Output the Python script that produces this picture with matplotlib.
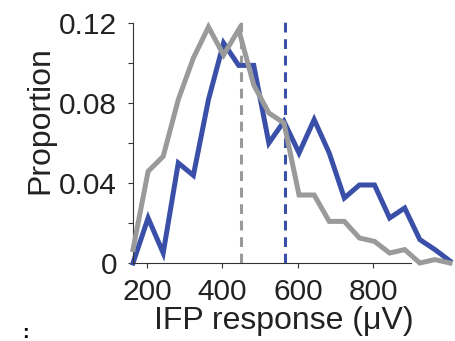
import matplotlib
matplotlib.use("Agg")
import matplotlib.pyplot as plt
import numpy as np

plt.rcParams['font.family'] = ['Liberation Sans', 'DejaVu Sans']

bin_start = 163
bin_width = 40
blue_vals = [0.0, 0.0225, 0.005, 0.05, 0.0438, 0.0817, 0.110, 0.0988, 0.0988, 0.060,
             0.0708, 0.055, 0.0717, 0.055, 0.0325, 0.039, 0.039, 0.0225, 0.0275,
             0.0117, 0.0067, 0.001]
gray_vals = [0.0067, 0.0458, 0.0533, 0.0817, 0.1025, 0.118, 0.104, 0.1167, 0.089, 0.075,
             0.070, 0.034, 0.034, 0.0208, 0.0208, 0.0125, 0.0108, 0.005, 0.0067,
             0.0, 0.0017, 0.0]
blue_median = 566
gray_median = 448
xticks = [200, 400, 600, 800]
yticks = [0, 0.04, 0.08, 0.12]
yticklabels = ['0', '0.04', '0.08', '0.12']

blue = '#3a50a8'
gray = '#9a9a9a'

x = bin_start + bin_width * np.arange(len(blue_vals))

fig = plt.figure(figsize=(4.56, 3.41), dpi=100)
ax = fig.add_axes([133/456, 1-263/341, (450-133)/456, (263-13)/341])

ax.plot([gray_median, gray_median], [0, 0.1225], color=gray, lw=2.2, ls=(0, (3.2, 2.2)), zorder=1)
ax.plot([blue_median, blue_median], [0, 0.1225], color=blue, lw=2.2, ls=(0, (3.2, 2.2)), zorder=1)
ax.plot(x, blue_vals, color=blue, lw=3.6, solid_joinstyle='miter', zorder=2, clip_on=False)
ax.plot(x, gray_vals, color=gray, lw=3.6, solid_joinstyle='miter', zorder=3, clip_on=False)

ax.set_xlim(163, 1003)
ax.set_ylim(0, 0.125)
for s in ['top', 'right']:
    ax.spines[s].set_visible(False)
ax.spines['left'].set_bounds(0, 0.12)
ax.spines['bottom'].set_bounds(163, 900)
for s in ['left', 'bottom']:
    ax.spines[s].set_linewidth(0.8)
    ax.spines[s].set_color('#333333')

ax.set_xticks(xticks)
ax.set_xticklabels([str(v) for v in xticks])
ax.set_yticks(yticks)
ax.set_yticklabels(yticklabels)
ax.set_yticks(np.arange(0, 0.121, 0.02), minor=True)
ax.tick_params(axis='both', which='both', direction='out', length=3.5, width=0.8,
               color='#333333', labelsize=21.5, labelcolor='#222222')
ax.tick_params(axis='y', which='minor', length=3.5, labelleft=False)
ax.tick_params(axis='y', pad=8)
ax.tick_params(axis='x', pad=7)

ax.set_xlabel('IFP response (\u03bcV)', fontsize=23, color='#222222')
ax.set_ylabel('Proportion', fontsize=23, color='#222222')
ax.xaxis.set_label_coords(0.475, -0.172)
ax.yaxis.set_label_coords(-0.245, 0.57)

fig.text(25/456, 1-334/341, ':', fontsize=14, fontweight='bold', ha='center', va='center')

fig.savefig('out.png', dpi=100)
